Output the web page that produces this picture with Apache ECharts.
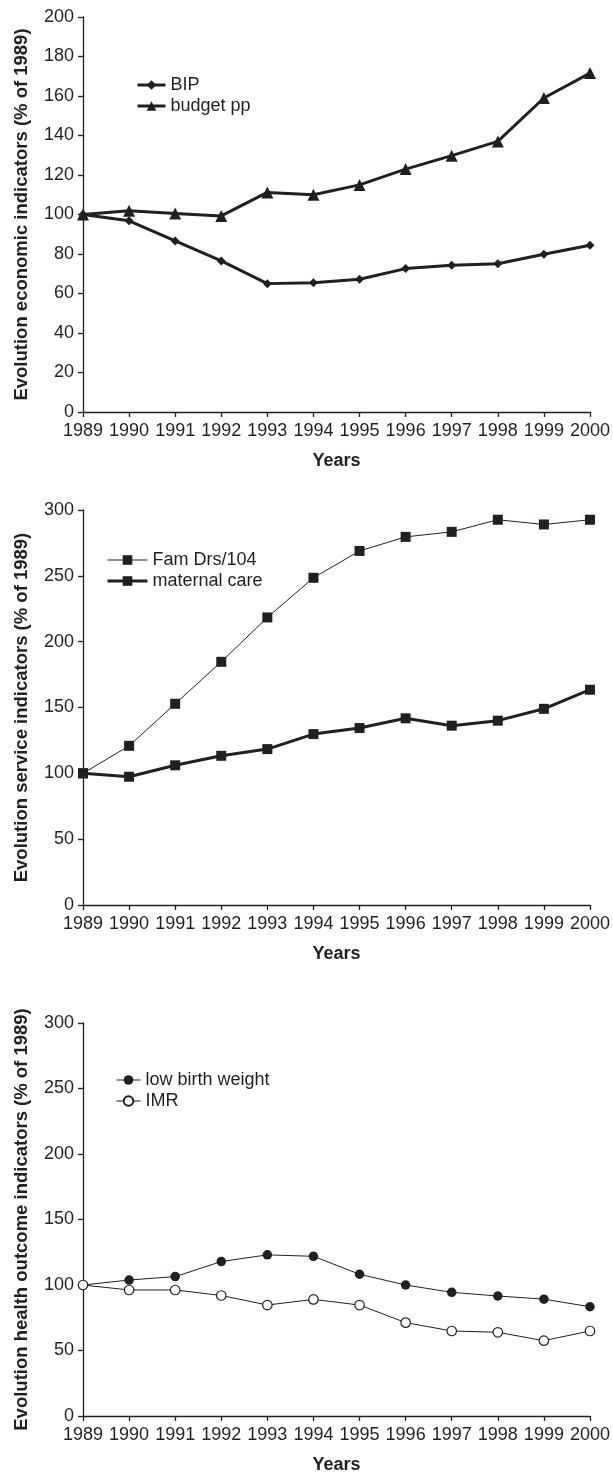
<!DOCTYPE html>
<html>
<head>
<meta charset="utf-8">
<script src="https://cdn.jsdelivr.net/npm/echarts@6/dist/echarts.min.js"></script>
<style>
    html, body {margin: 0; padding: 0; background: #fff;}
    #main {width: 613px; height: 1475px;}
</style>
</head>
<body>
<div id="main"></div>
<script>
// 年份
let years = ['1989', '1990', '1991', '1992', '1993', '1994', '1995', '1996', '1997', '1998', '1999', '2000'];

// 经济指标
let bip = [100, 96.8, 86.6, 76.5, 65, 65.5, 67.2, 72.6, 74.3, 75.1, 79.9, 84.4];
let budgetPp = [100, 101.9, 100.5, 99.3, 111.2, 110, 115, 123, 129.8, 137, 159, 171.6];

// 服务指标
let famDrs = [100, 120.9, 152.8, 184.7, 218.4, 248.5, 268.9, 279.6, 283.4, 292.6, 289, 292.6];
let maternalCare = [100, 97.4, 106.1, 113.3, 118.4, 129.8, 134.4, 141.8, 136.2, 140, 149, 163.5];

// 健康结果指标
let lowBirthWeight = [100, 103.8, 106.4, 117.9, 123, 121.9, 108.2, 100, 94.4, 91.6, 89.2, 83.4];
let imr = [100, 96.2, 96.2, 92, 84.7, 89, 84.7, 71.3, 64.9, 63.9, 57.5, 64.9];

// y轴刻度
let yTicks1 = {min: 0, max: 200, interval: 20};
let yTicks23 = {min: 0, max: 300, interval: 50};

let ink = '#231f20';
let font = 'Liberation Sans, Arial, sans-serif';

function xAxisOf(idx) {
    return {
        type: 'category',
        gridIndex: idx,
        data: years,
        boundaryGap: false,
        name: 'Years',
        nameLocation: 'middle',
        nameGap: 40,
        nameTextStyle: {fontFamily: font, fontSize: 18, fontWeight: 'bold', color: ink},
        axisLine: {lineStyle: {color: ink, width: 1.3}},
        axisTick: {show: true, length: 5, lineStyle: {color: ink, width: 1.3}},
        axisLabel: {fontFamily: font, fontSize: 18, color: ink, margin: 10, interval: 0},
        splitLine: {show: false}
    };
}

function yAxisOf(idx, ticks, title) {
    return {
        type: 'value',
        gridIndex: idx,
        min: ticks.min,
        max: ticks.max,
        interval: ticks.interval,
        name: title,
        nameLocation: 'middle',
        nameRotate: 90,
        nameGap: 52,
        nameTextStyle: {fontFamily: font, fontSize: 18.5, fontWeight: 'bold', color: ink},
        axisLine: {show: true, lineStyle: {color: ink, width: 1.3}},
        axisTick: {show: true, length: 5, lineStyle: {color: ink, width: 1.3}},
        axisLabel: {fontFamily: font, fontSize: 18, color: ink, margin: 9},
        splitLine: {show: false}
    };
}

function lineOf(name, data, idx, symbol, size, width, fill) {
    return {
        name: name,
        type: 'line',
        xAxisIndex: idx,
        yAxisIndex: idx,
        data: data,
        symbol: symbol,
        symbolSize: size,
        showSymbol: true,
        lineStyle: {color: ink, width: width},
        itemStyle: {color: fill || ink, borderColor: ink, borderWidth: fill ? 1.2 : 0},
        emphasis: {disabled: true},
        animation: false,
        z: 3
    };
}

// 图例：每个面板一组
function legendOf(items, left, top, itemWidth) {
    return {
        data: items.map(function (it) {
            return {name: it[0], lineStyle: {width: it[1], color: ink}};
        }),
        orient: 'vertical',
        left: left,
        top: top,
        padding: 0,
        itemWidth: itemWidth,
        itemHeight: 12,
        itemGap: 3,
        textStyle: {fontFamily: font, fontSize: 18, color: ink},
        selectedMode: false
    };
}

let myChart = echarts.init(document.getElementById('main'), null, {renderer: 'canvas'});
let option = {
    backgroundColor: '#fff',
    animation: false,
    grid: [
        {left: 83, right: 22, top: 17, height: 395},
        {left: 83, right: 22, top: 510, height: 395},
        {left: 83, right: 22, top: 1023, height: 395}
    ],
    legend: [
        legendOf([['BIP', 3], ['budget pp', 3]], 136, 76, 28),
        legendOf([['Fam Drs/104', 1], ['maternal care', 3]], 106, 551, 40),
        legendOf([['low birth weight', 1], ['IMR', 1]], 116, 1071, 24)
    ],
    xAxis: [xAxisOf(0), xAxisOf(1), xAxisOf(2)],
    yAxis: [
        yAxisOf(0, yTicks1, 'Evolution economic indicators (% of 1989)'),
        yAxisOf(1, yTicks23, 'Evolution service indicators (% of 1989)'),
        yAxisOf(2, yTicks23, 'Evolution health outcome indicators (% of 1989)')
    ],
    series: [
        lineOf('BIP', bip, 0, 'diamond', 9, 3),
        lineOf('budget pp', budgetPp, 0, 'triangle', 12, 3),
        lineOf('Fam Drs/104', famDrs, 1, 'rect', 10, 1),
        lineOf('maternal care', maternalCare, 1, 'rect', 10, 3),
        lineOf('low birth weight', lowBirthWeight, 2, 'circle', 9.5, 1),
        lineOf('IMR', imr, 2, 'circle', 9.5, 1, '#fff')
    ]
};
myChart.setOption(option);
</script>
</body>
</html>
